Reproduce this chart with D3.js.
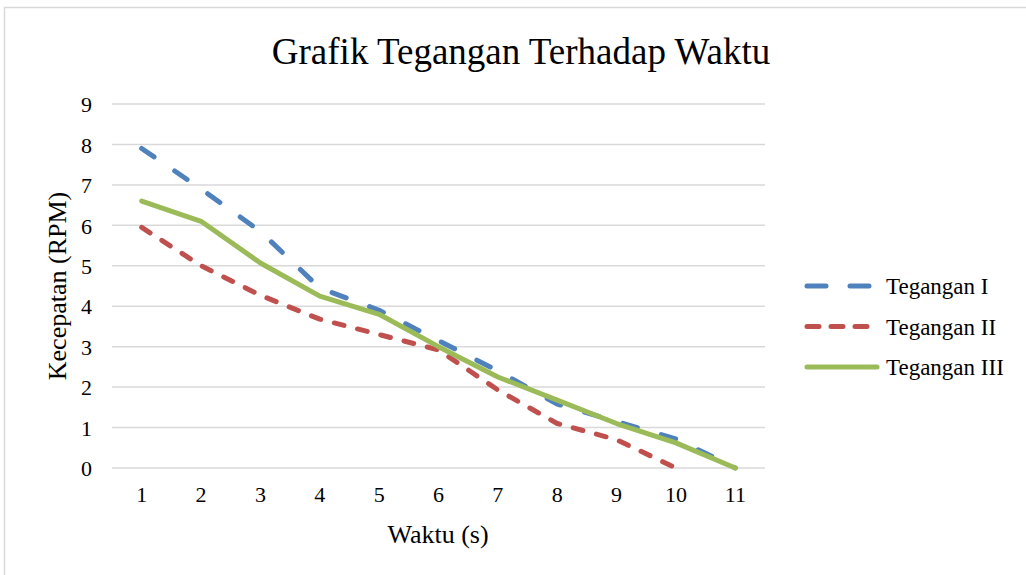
<!DOCTYPE html>
<html>
<head>
<meta charset="utf-8">
<script src="https://cdn.jsdelivr.net/npm/d3@7"></script>
<style>
	body{margin:0;background:#fff;}
	svg{display:block;}
	text{font-family:'Liberation Serif','Times New Roman',serif;fill:#000;}
</style>
</head>
<body>
<svg id="chart" width="1026" height="575"></svg>
<script>
// data
var waktu = [1,2,3,4,5,6,7,8,9,10,11];
var teganganI = [7.9,6.9,5.85,4.45,3.9,3.15,2.4,1.58,1.15,0.72,0];
var teganganII = [5.95,5.0,4.27,3.68,3.3,2.92,1.93,1.1,0.7,0];
var teganganIII = [6.6,6.1,5.07,4.25,3.8,3.0,2.25,1.68,1.1,0.62,0];
var yTicks = [0,1,2,3,4,5,6,7,8,9];

var seriesNames = ['Tegangan I','Tegangan II','Tegangan III'];
var seriesValues = [teganganI, teganganII, teganganIII];

var opt = {
	left:112, right:765, top:104, bottom:468,
	colors:['#4f81bd','#c0504d','#9bbb59'],
	dash:['15,25','10,14',null],
	lineWidth:5,
	gridColor:'#d9d9d9',
	tickFont:22
};

var svg = d3.select('#chart');

// outer chart border (top and left visible)
svg.append('path')
	.attr('d','M4.5,575 L4.5,7.5 L1026,7.5')
	.attr('fill','none')
	.attr('stroke','#d9d9d9')
	.attr('stroke-width',1.5);

var x = d3.scaleBand()
	.domain(waktu)
	.range([opt.left, opt.right]);

var y = d3.scaleLinear()
	.domain([0,9])
	.range([opt.bottom, opt.top]);

// grid
svg.append('g')
	.selectAll('line')
	.data(yTicks)
	.join('line')
	.attr('x1',opt.left)
	.attr('x2',opt.right)
	.attr('y1',function(d){return y(d);})
	.attr('y2',function(d){return y(d);})
	.attr('stroke',opt.gridColor)
	.attr('stroke-width',1.5);

// y axis labels
var yAxis = svg.append('g')
	.attr('transform','translate('+(opt.left-20)+',0)')
	.call(d3.axisLeft(y).tickValues(yTicks).tickSize(0).tickPadding(0));
yAxis.select('.domain').remove();
yAxis.selectAll('text')
	.attr('font-size',opt.tickFont)
	.attr('font-family',null)
	.attr('dy','0.35em');

// x axis labels
var xAxis = svg.append('g')
	.attr('transform','translate(0,502)')
	.call(d3.axisBottom(x).tickSize(0).tickPadding(0));
xAxis.select('.domain').remove();
xAxis.selectAll('text')
	.attr('font-size',opt.tickFont)
	.attr('font-family',null)
	.attr('dy',0);

// lines
var line = d3.line()
	.x(function(d,i){return x(waktu[i]) + x.bandwidth()/2;})
	.y(function(d){return y(d);});

seriesValues.forEach(function(vals,i){
	svg.append('path')
		.datum(vals)
		.attr('d',line)
		.attr('fill','none')
		.attr('stroke',opt.colors[i])
		.attr('stroke-width',opt.lineWidth)
		.attr('stroke-linecap','round')
		.attr('stroke-linejoin','round')
		.attr('stroke-dasharray',opt.dash[i]);
});

// title
svg.append('text')
	.attr('x',521)
	.attr('y',64)
	.attr('text-anchor','middle')
	.attr('font-size',37)
	.text('Grafik Tegangan Terhadap Waktu');

// axis titles
svg.append('text')
	.attr('x',438)
	.attr('y',543)
	.attr('text-anchor','middle')
	.attr('font-size',26)
	.text('Waktu (s)');

svg.append('text')
	.attr('transform','translate(66,286) rotate(-90)')
	.attr('text-anchor','middle')
	.attr('font-size',26)
	.text('Kecepatan (RPM)');

// legend
var legend = svg.append('g')
	.selectAll('g')
	.data(seriesNames)
	.join('g')
	.attr('transform',function(d,i){return 'translate(807,'+(286+i*40.5)+')';});

legend.append('line')
	.attr('x1',0)
	.attr('x2',70)
	.attr('stroke',function(d,i){return opt.colors[i];})
	.attr('stroke-width',opt.lineWidth)
	.attr('stroke-linecap','round')
	.attr('stroke-dasharray',function(d,i){return i==0?'19,24':(i==1?'12,12':null);});

legend.append('text')
	.attr('x',79)
	.attr('dy','0.35em')
	.attr('font-size',23)
	.text(function(d){return d;});
</script>
</body>
</html>
